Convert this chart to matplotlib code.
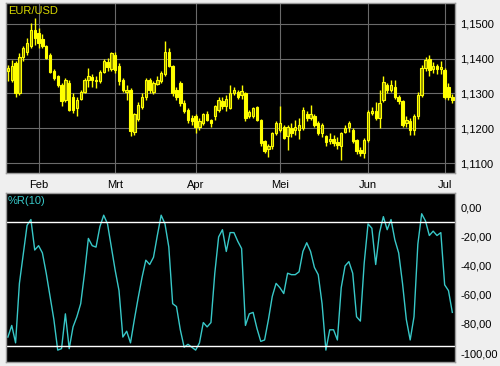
import matplotlib
matplotlib.use("Agg")
import matplotlib.pyplot as plt
import numpy as np

# EUR/USD daily candles, late Jan - early Jul (one entry per trading day)
opens = [1.1364, 1.1340, 1.1387, 1.1301, 1.1406, 1.1420, 1.1435, 1.1483, 1.1473, 1.1456,
         1.1436, 1.1410, 1.1365, 1.1349, 1.1325, 1.1280, 1.1330, 1.1290, 1.1258, 1.1285,
         1.1305, 1.1338, 1.1347, 1.1340, 1.1336, 1.1363, 1.1390, 1.1370, 1.1410, 1.1380,
         1.1339, 1.1305, 1.1310, 1.1190, 1.1228, 1.1262, 1.1291, 1.1339, 1.1305, 1.1328,
         1.1337, 1.1355, 1.1420, 1.1378, 1.1310, 1.1330, 1.1272, 1.1253, 1.1230, 1.1234,
         1.1205, 1.1215, 1.1240, 1.1224, 1.1234, 1.1253, 1.1277, 1.1265, 1.1258, 1.1301,
         1.1305, 1.1295, 1.1301, 1.1234, 1.1234, 1.1260, 1.1224, 1.1162, 1.1140, 1.1148,
         1.1186, 1.1196, 1.1205, 1.1177, 1.1200, 1.1196, 1.1196, 1.1200, 1.1240, 1.1230,
         1.1234, 1.1215, 1.1186, 1.1177, 1.1162, 1.1168, 1.1160, 1.1150, 1.1190, 1.1205,
         1.1196, 1.1167, 1.1138, 1.1130, 1.1167, 1.1244, 1.1250, 1.1229, 1.1282, 1.1325,
         1.1311, 1.1320, 1.1291, 1.1277, 1.1215, 1.1222, 1.1196, 1.1234, 1.1296, 1.1373,
         1.1400, 1.1370, 1.1378, 1.1370, 1.1368, 1.1320, 1.1291]
highs = [1.1382, 1.1397, 1.1392, 1.1416, 1.1435, 1.1460, 1.1502, 1.1516, 1.1488, 1.1470,
         1.1440, 1.1416, 1.1370, 1.1352, 1.1330, 1.1345, 1.1340, 1.1300, 1.1290, 1.1311,
         1.1345, 1.1373, 1.1355, 1.1350, 1.1368, 1.1400, 1.1402, 1.1420, 1.1418, 1.1388,
         1.1345, 1.1325, 1.1315, 1.1245, 1.1275, 1.1300, 1.1345, 1.1345, 1.1335, 1.1350,
         1.1365, 1.1450, 1.1430, 1.1382, 1.1320, 1.1335, 1.1280, 1.1258, 1.1238, 1.1240,
         1.1230, 1.1245, 1.1250, 1.1228, 1.1268, 1.1290, 1.1290, 1.1295, 1.1325, 1.1320,
         1.1310, 1.1325, 1.1305, 1.1252, 1.1262, 1.1263, 1.1228, 1.1165, 1.1155, 1.1190,
         1.1220, 1.1263, 1.1210, 1.1210, 1.1215, 1.1225, 1.1230, 1.1260, 1.1250, 1.1268,
         1.1240, 1.1220, 1.1215, 1.1182, 1.1185, 1.1180, 1.1175, 1.1190, 1.1210, 1.1222,
         1.1200, 1.1170, 1.1145, 1.1172, 1.1252, 1.1262, 1.1275, 1.1311, 1.1350, 1.1330,
         1.1339, 1.1339, 1.1295, 1.1282, 1.1235, 1.1230, 1.1240, 1.1305, 1.1382, 1.1405,
         1.1410, 1.1390, 1.1385, 1.1392, 1.1372, 1.1330, 1.1298]
lows = [1.1335, 1.1334, 1.1291, 1.1296, 1.1392, 1.1410, 1.1430, 1.1440, 1.1430, 1.1430,
        1.1398, 1.1358, 1.1340, 1.1320, 1.1263, 1.1275, 1.1250, 1.1245, 1.1234, 1.1280,
        1.1300, 1.1320, 1.1320, 1.1315, 1.1330, 1.1358, 1.1365, 1.1365, 1.1360, 1.1325,
        1.1305, 1.1282, 1.1177, 1.1180, 1.1220, 1.1255, 1.1282, 1.1300, 1.1298, 1.1325,
        1.1330, 1.1350, 1.1375, 1.1292, 1.1280, 1.1265, 1.1245, 1.1215, 1.1210, 1.1186,
        1.1195, 1.1210, 1.1220, 1.1205, 1.1225, 1.1248, 1.1255, 1.1250, 1.1255, 1.1295,
        1.1285, 1.1285, 1.1220, 1.1230, 1.1230, 1.1220, 1.1150, 1.1130, 1.1118, 1.1140,
        1.1180, 1.1190, 1.1168, 1.1138, 1.1175, 1.1180, 1.1168, 1.1195, 1.1220, 1.1225,
        1.1205, 1.1180, 1.1175, 1.1150, 1.1155, 1.1148, 1.1140, 1.1110, 1.1185, 1.1190,
        1.1158, 1.1125, 1.1120, 1.1115, 1.1160, 1.1238, 1.1225, 1.1200, 1.1275, 1.1300,
        1.1305, 1.1285, 1.1270, 1.1205, 1.1205, 1.1180, 1.1180, 1.1228, 1.1290, 1.1365,
        1.1350, 1.1360, 1.1355, 1.1355, 1.1285, 1.1282, 1.1272]
closes = [1.1372, 1.1380, 1.1301, 1.1406, 1.1430, 1.1445, 1.1483, 1.1460, 1.1445, 1.1436,
          1.1402, 1.1363, 1.1344, 1.1325, 1.1277, 1.1339, 1.1253, 1.1253, 1.1280, 1.1305,
          1.1339, 1.1349, 1.1340, 1.1336, 1.1363, 1.1392, 1.1375, 1.1416, 1.1368, 1.1337,
          1.1311, 1.1310, 1.1191, 1.1240, 1.1268, 1.1291, 1.1339, 1.1310, 1.1330, 1.1340,
          1.1358, 1.1420, 1.1380, 1.1301, 1.1291, 1.1272, 1.1250, 1.1224, 1.1220, 1.1205,
          1.1220, 1.1240, 1.1225, 1.1215, 1.1263, 1.1282, 1.1265, 1.1285, 1.1301, 1.1311,
          1.1290, 1.1306, 1.1229, 1.1248, 1.1258, 1.1224, 1.1158, 1.1135, 1.1150, 1.1186,
          1.1215, 1.1215, 1.1172, 1.1205, 1.1185, 1.1205, 1.1210, 1.1253, 1.1230, 1.1240,
          1.1210, 1.1186, 1.1210, 1.1160, 1.1170, 1.1158, 1.1153, 1.1186, 1.1200, 1.1215,
          1.1162, 1.1134, 1.1130, 1.1167, 1.1248, 1.1250, 1.1230, 1.1272, 1.1334, 1.1311,
          1.1325, 1.1291, 1.1277, 1.1210, 1.1224, 1.1196, 1.1234, 1.1296, 1.1373, 1.1397,
          1.1368, 1.1378, 1.1370, 1.1375, 1.1291, 1.1290, 1.1280]

# Williams %R(10), same days
wr = [-89, -81, -93, -52, -32, -12, -8, -29, -26, -31,
      -45, -61, -77, -98, -97, -73, -97, -82, -75, -66,
      -45, -21, -26, -27, -13, -5, -11, -27, -43, -57,
      -89, -85, -93, -77, -62, -48, -36, -39, -34, -19,
      -5, -11, -27, -66, -68, -84, -96, -94, -96, -98,
      -93, -79, -82, -79, -45, -20, -15, -30, -17, -17,
      -23, -28, -81, -73, -72, -83, -92, -91, -77, -61,
      -52, -55, -59, -45, -46, -46, -44, -30, -24, -30,
      -41, -46, -66, -98, -84, -84, -91, -55, -40, -37,
      -45, -75, -78, -38, -11, -14, -39, -17, -6, -15,
      -8, -22, -31, -52, -77, -91, -75, -25, -4, -9,
      -19, -16, -19, -17, -53, -57, -72]

# first trading day of each month (index into the lists above)
month_pos = [8, 28, 49, 71, 94, 114]
month_labels = ["Feb", "Mrt", "Apr", "Mei", "Jun", "Jul"]
price_ticks = [1.11, 1.12, 1.13, 1.14, 1.15]
wr_ticks = [0, -20, -40, -60, -80, -100]
wr_levels = [-10, -95]

plt.rcParams["font.family"] = ["Liberation Sans", "DejaVu Sans"]

o = np.array(opens)
h = np.array(highs)
l = np.array(lows)
c = np.array(closes)
x = np.arange(len(c))
up = c >= o

fig = plt.figure(figsize=(5, 3.66), dpi=100, facecolor="#efefef")
ax1 = fig.add_axes([6 / 500, 1 - 173 / 366, 449 / 500, 170 / 366], facecolor="black")
ax2 = fig.add_axes([6 / 500, 1 - 362 / 366, 449 / 500, 169 / 366], facecolor="black")

# candles
ax1.vlines(x, l, h, color="#ffff00", lw=1, zorder=2)
bottom = np.minimum(o, c)
height = np.maximum(np.abs(c - o), 0.00015)
ax1.bar(x[up], height[up], bottom=bottom[up], width=0.62, color="#8c8c00",
        edgecolor="#ffff00", lw=0.8, zorder=3)
ax1.bar(x[~up], height[~up], bottom=bottom[~up], width=0.62, color="#ffff00",
        edgecolor="#ffff00", lw=0.8, zorder=3)

ax1.set_xlim(-0.5, 116.7)
ax1.set_ylim(1.10714, 1.1560)
ax1.set_yticks(price_ticks)
ax1.set_yticklabels([f"{v:.4f}".replace(".", ",") for v in price_ticks])
ax1.set_xticks(month_pos)
ax1.set_xticklabels(month_labels)
ax1.yaxis.tick_right()
ax1.tick_params(axis="y", length=0, pad=4, labelsize=8)
ax1.tick_params(axis="x", length=0, pad=5, labelsize=8)
ax1.grid(color="#6a6a6a", lw=0.8)
ax1.set_axisbelow(True)
ax1.text(0.004, 0.985, "EUR/USD", transform=ax1.transAxes, color="#d8d800",
         fontsize=8, va="top", ha="left")

# %R panel
ax2.plot(x, wr, color="#38c8c8", lw=1)
for lev in wr_levels:
    ax2.axhline(lev, color="white", lw=1)
ax2.set_xlim(-0.5, 116.7)
ax2.set_ylim(-106.2, 10.3)
ax2.set_yticks(wr_ticks)
ax2.set_yticklabels([f"{v:.2f}".replace(".", ",") for v in wr_ticks])
ax2.set_xticks([])
ax2.yaxis.tick_right()
ax2.tick_params(axis="y", length=0, pad=4, labelsize=8)
ax2.text(0.004, 0.985, "%R(10)", transform=ax2.transAxes, color="#38c8c8",
         fontsize=8, va="top", ha="left")

for ax in (ax1, ax2):
    for s in ax.spines.values():
        s.set_color("#9a9a9a")
        s.set_linewidth(1)

fig.savefig("out.png", dpi=100, facecolor=fig.get_facecolor())
